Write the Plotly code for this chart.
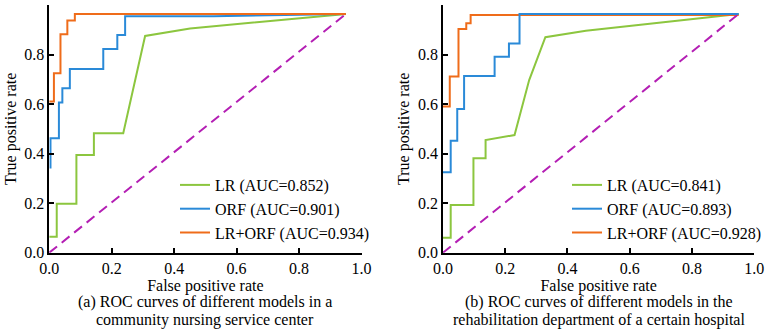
import plotly.graph_objects as go

# ---------------- data ----------------
# Panel (a): community nursing service center
a_lr_fpr = [0, 0.024, 0.024, 0.087, 0.087, 0.143, 0.143, 0.237, 0.307, 0.451, 0.95]
a_lr_tpr = [0.064, 0.064, 0.198, 0.198, 0.394, 0.394, 0.482, 0.482, 0.875, 0.905, 0.964]

a_orf_fpr = [0.004, 0.004, 0.031, 0.031, 0.042, 0.042, 0.066, 0.066, 0.173, 0.173,
             0.218, 0.218, 0.243, 0.243, 0.525, 0.95]
a_orf_tpr = [0.34, 0.462, 0.462, 0.606, 0.606, 0.664, 0.664, 0.742, 0.742, 0.822,
             0.822, 0.879, 0.879, 0.955, 0.955, 0.964]

a_comb_fpr = [0, 0.015, 0.015, 0.036, 0.036, 0.058, 0.058, 0.082, 0.082, 0.95]
a_comb_tpr = [0.61, 0.61, 0.724, 0.724, 0.882, 0.882, 0.937, 0.937, 0.964, 0.964]

# Panel (b): rehabilitation department of a certain hospital
b_lr_fpr = [0, 0.025, 0.025, 0.098, 0.098, 0.137, 0.137, 0.23, 0.277, 0.329, 0.459, 0.95]
b_lr_tpr = [0.06, 0.06, 0.193, 0.193, 0.381, 0.381, 0.455, 0.475, 0.697, 0.87, 0.896, 0.964]

b_orf_fpr = [0, 0.025, 0.025, 0.046, 0.046, 0.068, 0.068, 0.166, 0.166, 0.212, 0.212,
             0.246, 0.246, 0.95]
b_orf_tpr = [0.325, 0.325, 0.452, 0.452, 0.58, 0.58, 0.713, 0.713, 0.791, 0.791, 0.845,
             0.845, 0.964, 0.964]

b_comb_fpr = [0, 0.022, 0.022, 0.05, 0.05, 0.075, 0.075, 0.089, 0.089, 0.95]
b_comb_tpr = [0.59, 0.59, 0.711, 0.711, 0.903, 0.903, 0.926, 0.926, 0.96, 0.96]

chance_fpr = [0, 0.95]
chance_tpr = [0, 0.964]

a_names = ["LR (AUC=0.852)", "ORF (AUC=0.901)", "LR+ORF (AUC=0.934)"]
b_names = ["LR (AUC=0.841)", "ORF (AUC=0.893)", "LR+ORF (AUC=0.928)"]

captions_a = ["(a) ROC curves of different models in a", "community nursing service center"]
captions_b = ["(b) ROC curves of different models in the",
              "rehabilitation department of a certain hospital"]

tick_vals = [0, 0.2, 0.4, 0.6, 0.8, 1.0]
tick_text = ["0.0", "0.2", "0.4", "0.6", "0.8", "1.0"]

# ---------------- style ----------------
FONT = "Liberation Serif"
FS = 16
GREEN = "#8cc63f"
BLUE = "#2a8ad8"
ORANGE = "#ef6c1a"
PURPLE = "#b41fb4"
W, H = 767, 330

fig = go.Figure()

def line(x, y, color, name, xa, ya, legend, rank):
    fig.add_trace(go.Scatter(x=x, y=y, mode="lines", name=name,
                             line=dict(color=color, width=2),
                             xaxis=xa, yaxis=ya, legend=legend, legendrank=rank))

# panel a (orange drawn on top of blue)
line(a_lr_fpr, a_lr_tpr, GREEN, a_names[0], "x", "y", "legend", 1)
line(a_orf_fpr, a_orf_tpr, BLUE, a_names[1], "x", "y", "legend", 2)
line(a_comb_fpr, a_comb_tpr, ORANGE, a_names[2], "x", "y", "legend", 3)
fig.add_trace(go.Scatter(x=chance_fpr, y=chance_tpr, mode="lines", showlegend=False,
                         line=dict(color=PURPLE, width=2, dash="10px,6px"),
                         xaxis="x", yaxis="y"))

# panel b (blue drawn on top of orange)
line(b_lr_fpr, b_lr_tpr, GREEN, b_names[0], "x2", "y2", "legend2", 1)
line(b_comb_fpr, b_comb_tpr, ORANGE, b_names[2], "x2", "y2", "legend2", 3)
line(b_orf_fpr, b_orf_tpr, BLUE, b_names[1], "x2", "y2", "legend2", 2)
fig.add_trace(go.Scatter(x=chance_fpr, y=chance_tpr, mode="lines", showlegend=False,
                         line=dict(color=PURPLE, width=2, dash="10px,6px"),
                         xaxis="x2", yaxis="y2"))

# pixel geometry of the plot areas
ax_a = (49.3, 362.0)
ax_b = (443.5, 755.3)
y_top, y_bot = 5.0, 252.7

def px(v):
    return v / W

def py(v):
    return (H - v) / H

axis_common = dict(range=[0, 1], tickvals=tick_vals, ticktext=tick_text,
                   ticks="inside", ticklen=5, tickwidth=1.5, tickcolor="black",
                   showline=True, linecolor="black", linewidth=1.5,
                   showgrid=False, zeroline=False, mirror=False,
                   tickfont=dict(family=FONT, size=FS, color="black"),
                   automargin=False, fixedrange=True)

xt = dict(text="False positive rate", font=dict(family=FONT, size=FS, color="black"), standoff=1)
yt = dict(text="True positive rate", font=dict(family=FONT, size=FS, color="black"), standoff=4)

fig.update_layout(
    width=W, height=H,
    margin=dict(l=0, r=0, t=0, b=0),
    paper_bgcolor="white", plot_bgcolor="white",
    font=dict(family=FONT, size=FS, color="black"),
    xaxis=dict(domain=[px(ax_a[0]), px(ax_a[1])], anchor="y", title=xt, **axis_common),
    yaxis=dict(domain=[py(y_bot), py(y_top)], anchor="x", title=yt, **axis_common),
    xaxis2=dict(domain=[px(ax_b[0]), px(ax_b[1])], anchor="y2", title=xt, **axis_common),
    yaxis2=dict(domain=[py(y_bot), py(y_top)], anchor="x2", title=yt, **axis_common),
    legend=dict(x=px(175), xanchor="left", y=py(209), yanchor="middle",
                bgcolor="rgba(0,0,0,0)", borderwidth=0,
                font=dict(family=FONT, size=FS, color="black"), tracegroupgap=0),
    legend2=dict(x=px(568), xanchor="left", y=py(209), yanchor="middle",
                 bgcolor="rgba(0,0,0,0)", borderwidth=0,
                 font=dict(family=FONT, size=FS, color="black"), tracegroupgap=0),
    showlegend=True,
)

for cx, caps in ((sum(ax_a) / 2, captions_a), (sum(ax_b) / 2, captions_b)):
    for yy, txt in zip((302, 320), caps):
        fig.add_annotation(text=txt, xref="paper", yref="paper", x=px(cx), y=py(yy),
                           xanchor="center", yanchor="middle", showarrow=False,
                           font=dict(family=FONT, size=FS, color="black"))

fig.write_html("out.html")
